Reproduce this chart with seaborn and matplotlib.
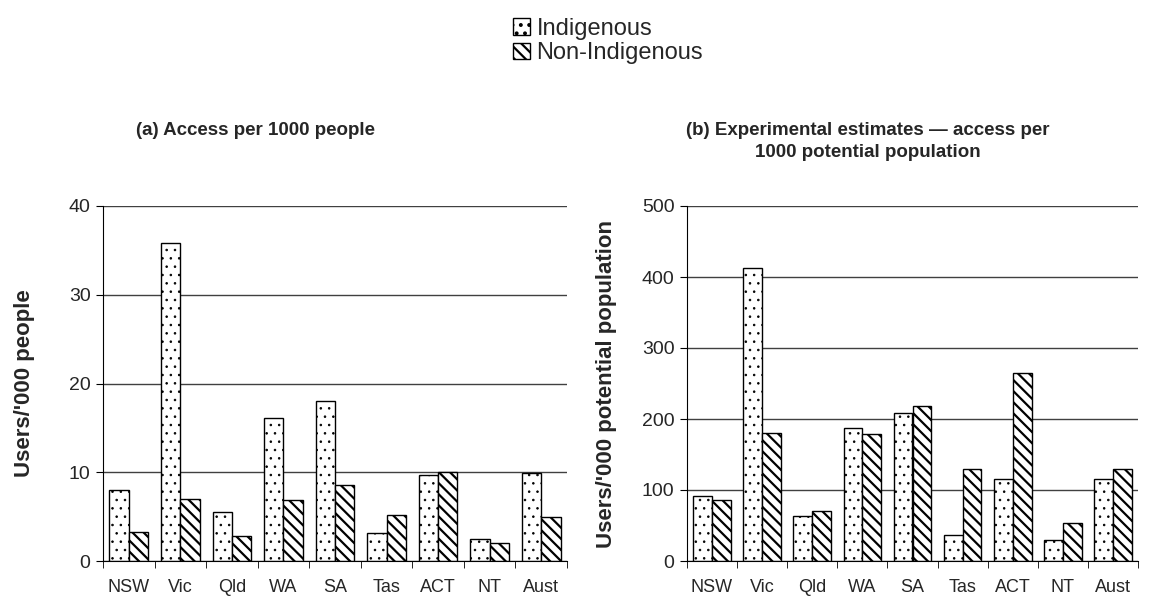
import numpy as np
import pandas as pd
import matplotlib
matplotlib.use("Agg")
import matplotlib.pyplot as plt
import matplotlib.patches as mpatches
import seaborn as sns

### donnees
etats = ["NSW", "Vic", "Qld", "WA", "SA", "Tas", "ACT", "NT", "Aust"]
groupes = ["Indigenous", "Non-Indigenous"]

# (a) acces pour 1000 personnes
acces_indig = [8.0, 35.8, 5.5, 16.1, 18.0, 3.2, 9.7, 2.5, 9.9]
acces_non_indig = [3.3, 7.0, 2.8, 6.9, 8.6, 5.2, 10.0, 2.0, 5.0]

# (b) estimations experimentales pour 1000 population potentielle
estim_indig = [92, 412, 63, 187, 208, 37, 115, 30, 115]
estim_non_indig = [86, 180, 70, 179, 218, 130, 265, 53, 129]

titre_a = "(a) Access per 1000 people"
titre_b = "(b) Experimental estimates \u2014 access per\n1000 potential population"
ylabel_a = "Users/'000 people"
ylabel_b = "Users/'000 potential population"

sns.set_style("white")
plt.rcParams['font.family'] = ['Liberation Sans', 'DejaVu Sans']
plt.rcParams['hatch.linewidth'] = 1.6
plt.rcParams['hatch.color'] = 'black'

hachures = ['..', '\\\\\\']
epaisseur_hachures = [0.6, 1.6]
W, H = 1149, 596


def en_table(val_indig, val_non):
    return pd.DataFrame({
        "etat": etats * 2,
        "groupe": [groupes[0]] * len(etats) + [groupes[1]] * len(etats),
        "valeur": list(val_indig) + list(val_non),
    })


def hachurer(patch, i):
    patch.set_hatch(hachures[i])
    if hasattr(patch, "set_hatch_linewidth"):
        patch.set_hatch_linewidth(epaisseur_hachures[i])


def panneau(ax, donnees, ylabel, ymax, pas, xlab):
    sns.barplot(data=donnees, x="etat", y="valeur", hue="groupe",
                order=etats, hue_order=groupes,
                palette=["white", "white"], width=0.75, gap=0,
                edgecolor="black", linewidth=1.0, legend=False, ax=ax)
    for i, cont in enumerate(ax.containers):
        for barre in cont:
            hachurer(barre, i)
    ax.set_ylim(0, ymax)
    ax.set_xlim(-0.5, len(etats) - 0.5)
    ax.set_yticks(np.arange(0, ymax + pas, pas))
    ax.yaxis.grid(True, color="#404040", linewidth=1.0)
    ax.set_axisbelow(True)
    for cote in ["top", "right"]:
        ax.spines[cote].set_visible(False)
    ax.spines["left"].set_color("black")
    ax.spines["bottom"].set_color("black")
    ax.set_xticks(np.arange(-0.5, len(etats), 1), minor=True)
    ax.tick_params(axis="x", which="major", length=0, labelsize=13, pad=13)
    ax.tick_params(axis="x", which="minor", length=5, color="black",
                   direction="out", bottom=True)
    ax.tick_params(axis="y", length=5, color="black", direction="out",
                   left=True, labelsize=14, pad=4)
    ax.set_xlabel("")
    ax.set_ylabel(ylabel, fontsize=16, fontweight="bold")
    ax.yaxis.set_label_coords(xlab, 0.5)


fig = plt.figure(figsize=(W / 100, H / 100), dpi=100)
ax_a = fig.add_axes([103 / W, 35 / H, 464 / W, 355 / H])
ax_b = fig.add_axes([687 / W, 35 / H, 451 / W, 355 / H])

panneau(ax_a, en_table(acces_indig, acces_non_indig), ylabel_a, 40, 10,
        (35 - 103) / 464)
panneau(ax_b, en_table(estim_indig, estim_non_indig), ylabel_b, 500, 100,
        (617 - 687) / 451)

fig.text(256 / W, 1 - 122 / H, titre_a, ha="center", va="top",
         fontsize=13.5, fontweight="bold")
fig.text(868 / W, 1 - 122 / H, titre_b, ha="center", va="top",
         fontsize=13.5, fontweight="bold", linespacing=1.4)

leg_indig = mpatches.Patch(facecolor="white", edgecolor="black",
                           label=groupes[0])
hachurer(leg_indig, 0)
leg_non = mpatches.Patch(facecolor="white", edgecolor="black",
                         label=groupes[1])
hachurer(leg_non, 1)
fig.legend(handles=[leg_indig, leg_non], loc="upper left",
           bbox_to_anchor=(513 / W, 1 - 18 / H), frameon=False,
           fontsize=17, handlelength=0.7, handleheight=0.7,
           handletextpad=0.3, labelspacing=0.1, borderpad=0,
           borderaxespad=0)

plt.savefig("out.png", dpi=100)
plt.close()
